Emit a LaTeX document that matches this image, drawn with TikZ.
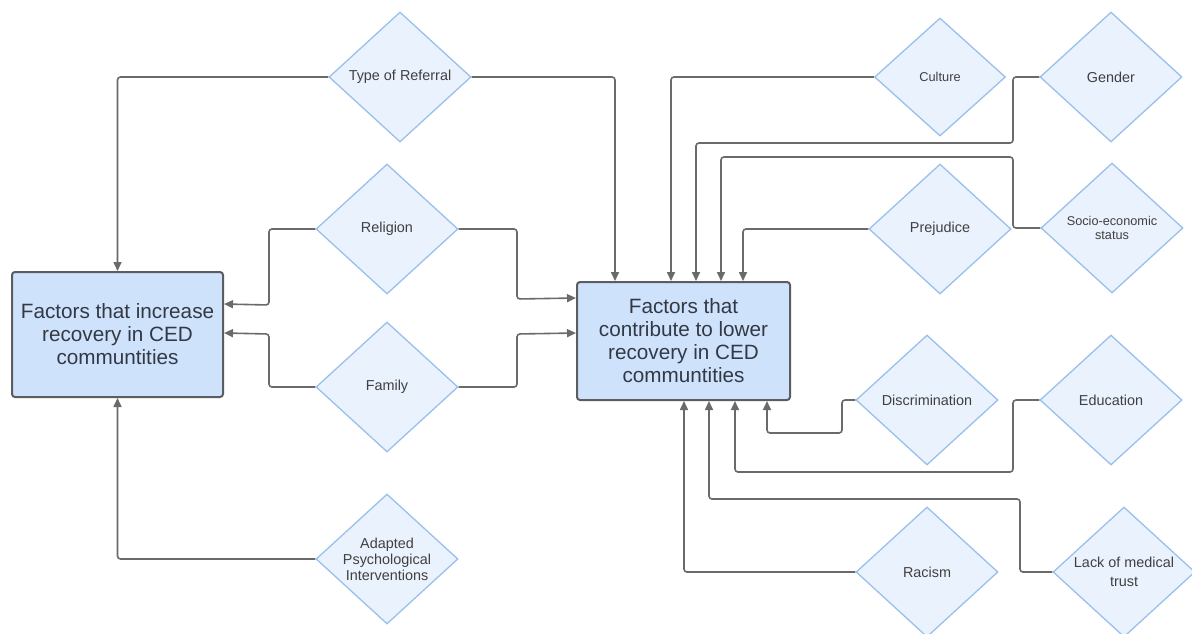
\documentclass[tikz,border=0pt]{standalone}
\usepackage{fontspec}
\setmainfont{Liberation Sans}
\usetikzlibrary{shapes.geometric,arrows.meta,calc}

\definecolor{linegray}{HTML}{6A6A6A}
\definecolor{dfill}{HTML}{EAF2FD}
\definecolor{dborder}{HTML}{9AC0EB}
\definecolor{dtext}{HTML}{404040}
\definecolor{bfill}{HTML}{CFE2FC}
\definecolor{bborder}{HTML}{5A5D62}
\definecolor{btext}{HTML}{333944}

\begin{document}
\begin{tikzpicture}[x=1pt,y=-1pt,
  factor/.style={diamond, draw=dborder, fill=dfill, line width=1.3pt,
    inner sep=0pt, aspect=1.09, minimum width=142pt, minimum height=130pt,
    align=center, text=dtext, font=\fontsize{14.4}{16}\selectfont},
  smallfactor/.style={factor, font=\fontsize{12.7}{14}\selectfont},
  hub/.style={rectangle, draw=bborder, fill=bfill, line width=2pt,
    rounded corners=3pt, inner sep=0pt, align=center, text=btext,
    font=\fontsize{20.7}{23}\selectfont},
  conn/.style={draw=linegray, line width=1.6pt, rounded corners=3pt,
    -{Triangle[length=9pt,width=8pt]}}]

\fill[white] (0,0) rectangle (1192,633);
\useasboundingbox (0,0) rectangle (1192,633);

% central outcome boxes
\node[hub, minimum width=211pt, minimum height=125pt] (inc) at (117.5,334.5)
  {Factors that increase\\recovery in CED\\communtities};
\node[hub, minimum width=213pt, minimum height=118pt] (low) at (683.5,341)
  {Factors that\\contribute to lower\\recovery in CED\\communtities};

% factors on the left
\node[factor] (tor) at (400,77) {Type of Referral};
\node[factor] (rel) at (387,229) {Religion};
\node[factor] (fam) at (387,387) {Family};
\node[factor] (api) at (387,559) {Adapted\\Psychological\\Interventions};

% factors on the right
\node[factor, font=\fontsize{12.8}{15}\selectfont,
  minimum width=131pt, minimum height=118pt] (cul) at (940,77) {Culture};
\node[factor] (gen) at (1111,77) {Gender};
\node[factor] (pre) at (940,229) {Prejudice};
\node[smallfactor] (ses) at (1112,228) {Socio-economic\\status};
\node[factor] (dis) at (927,400) {Discrimination};
\node[factor] (edu) at (1111,400) {Education};
\node[factor] (rac) at (927,572) {Racism};
\node[factor, font=\fontsize{14.4}{18.5}\selectfont] (lmt) at (1124,572)
  {Lack of medical\\trust};

% links into the left box
\draw[conn] (tor.west) -| (inc.north);
\draw[conn] (rel.west) -| (269,305) -- ($(inc.north east)+(0,33)$);
\draw[conn] (fam.west) -| (269,334) -- ($(inc.north east)+(0,62)$);
\draw[conn] (api.west) -| (inc.south);

% links into the right box, from the left side
\draw[conn] (tor.east) -| ($(low.north west)+(39,0)$);
\draw[conn] (rel.east) -| (517,299) -- ($(low.north west)+(0,17)$);
\draw[conn] (fam.east) -| (517,334) -- ($(low.north west)+(0,52)$);

% links into the top of the right box
\draw[conn] (cul.west) -| ($(low.north west)+(95,0)$);
\draw[conn] (gen.west) -| (1013,143) -| ($(low.north west)+(120,0)$);
\draw[conn] (ses.west) -| (1013,157) -| ($(low.north west)+(145,0)$);
\draw[conn] (pre.west) -| ($(low.north west)+(167,0)$);

% links into the bottom of the right box
\draw[conn] (dis.west) -| (842,433) -| ($(low.south west)+(191,0)$);
\draw[conn] (edu.west) -| (1013,472) -| ($(low.south west)+(159,0)$);
\draw[conn] (lmt.west) -| (1020,499) -| ($(low.south west)+(133,0)$);
\draw[conn] (rac.west) -| ($(low.south west)+(108,0)$);

\end{tikzpicture}
\end{document}
